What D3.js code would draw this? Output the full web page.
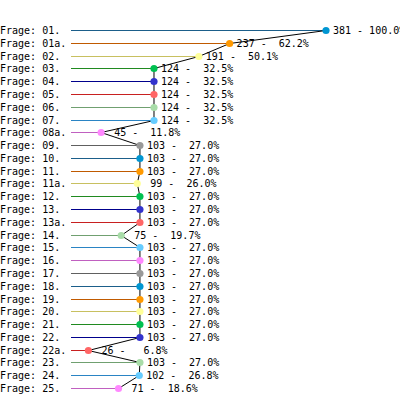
<!DOCTYPE html>
<html>
<head>
<meta charset="utf-8">
<script src="https://cdn.jsdelivr.net/npm/d3@7"></script>
<style>
  body { margin: 0; background: #fff; }
  text { font-family: "DejaVu Sans Mono", "Liberation Mono", monospace; font-size: 10px; fill: #000; }
</style>
</head>
<body>
<div id="chart"></div>
<script>
// Fragen und Antworten
var fragen = ["01.", "01a.", "02.", "03.", "04.", "05.", "06.", "07.", "08a.", "09.",
  "10.", "11.", "11a.", "12.", "13.", "13a.", "14.", "15.", "16.", "17.",
  "18.", "19.", "20.", "21.", "22.", "22a.", "23.", "24.", "25."];
var anzahl = [381, 237, 191, 124, 124, 124, 124, 124, 45, 103,
  103, 103, 99, 103, 103, 103, 75, 103, 103, 103,
  103, 103, 103, 103, 103, 26, 103, 102, 71];
var total = 381;

var lineColors = ["#1b5e8a", "#c05a00", "#c8c060", "#208a20", "#00008c", "#c82020", "#70a070", "#2a84c4", "#c060c0", "#606060"];
var dotColors = ["#0096d2", "#ff9900", "#ffff99", "#00c050", "#3333cc", "#ff6666", "#a8dca8", "#66ccff", "#ff88ff", "#999999"];

var width = 400, height = 398;

var data = fragen.map(function(f, i) {
  return { frage: f, n: anzahl[i], pct: anzahl[i] / total * 100, i: i };
});

var svg = d3.select("#chart").append("svg")
  .attr("width", width)
  .attr("height", height);

var x = d3.scaleLinear().domain([0, total]).range([71, 326]);
var y = d3.scalePoint().domain(fragen).range([30, 388]);
var yr = f => Math.round(y(f)) + 0.5;

function pad(s, n) {
  s = String(s);
  while (s.length < n) s = " " + s;
  return s;
}

// Beschriftung links
svg.selectAll(".lbl")
  .data(data)
  .join("text")
  .attr("class", "lbl")
  .attr("x", 0)
  .attr("y", d => yr(d.frage))
  .attr("dy", "0.35em")
  .text(d => "Frage: " + d.frage);

// farbige Linien
svg.selectAll(".stem")
  .data(data)
  .join("line")
  .attr("class", "stem")
  .attr("x1", x(0))
  .attr("x2", d => x(d.n))
  .attr("y1", d => yr(d.frage))
  .attr("y2", d => yr(d.frage))
  .attr("stroke", d => lineColors[d.i % 10])
  .attr("stroke-width", 1)
  .attr("shape-rendering", "crispEdges");

// schwarze Verbindungslinie
var path = d3.line().x(d => x(d.n)).y(d => yr(d.frage));
svg.append("path")
  .datum(data)
  .attr("d", path)
  .attr("fill", "none")
  .attr("stroke", "#000")
  .attr("stroke-width", 1);

// Punkte
svg.selectAll(".dot")
  .data(data)
  .join("circle")
  .attr("class", "dot")
  .attr("cx", d => x(d.n))
  .attr("cy", d => yr(d.frage))
  .attr("r", 3.6)
  .attr("fill", d => dotColors[d.i % 10]);

// Werte
svg.selectAll(".val")
  .data(data)
  .join("text")
  .attr("class", "val")
  .attr("x", d => x(d.n) + 7)
  .attr("y", d => yr(d.frage))
  .attr("dy", "0.35em")
  .attr("xml:space", "preserve")
  .style("white-space", "pre")
  .text(d => pad(d.n, 3) + " - " + pad(d.pct.toFixed(1), 5) + "%");
</script>
</body>
</html>
